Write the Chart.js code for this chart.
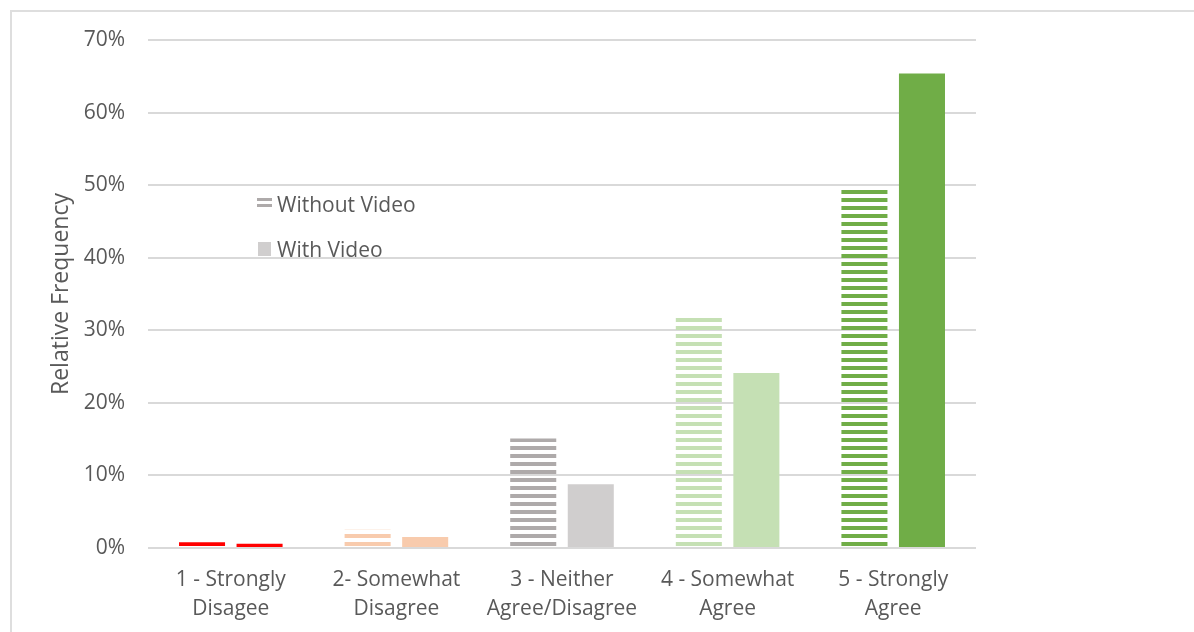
<!DOCTYPE html>
<html>
<head>
<meta charset="utf-8">
<script src="https://cdn.jsdelivr.net/npm/chart.js@4.4.1/dist/chart.umd.min.js"></script>
<style>
  html, body { margin: 0; padding: 0; background: #fff; }
  #wrap { position: relative; width: 1194px; height: 632px; overflow: hidden; }
  #frame { position: absolute; left: 10px; top: 10px; width: 1200px; height: 700px; border: 2px solid #dedede; }
  #chart { position: absolute; left: 0; top: 0; }
</style>
</head>
<body>
<div id="wrap">
  <div id="frame"></div>
  <canvas id="chart" width="1194" height="632"></canvas>
</div>
<script>
// response categories (two-line tick labels)
const categories = [
  ['1 - Strongly', 'Disagee'],
  ['2- Somewhat', 'Disagree'],
  ['3 - Neither', 'Agree/Disagree'],
  ['4 - Somewhat', 'Agree'],
  ['5 - Strongly', 'Agree']
];
// relative frequency, percent
const withoutVideo = [0.8, 2.5, 15.1, 31.7, 49.5];
const withVideo = [0.6, 1.5, 8.8, 24.1, 65.4];
const yTicks = [0, 10, 20, 30, 40, 50, 60, 70];

const seriesNames = ['Without Video', 'With Video'];
const withoutColors = ['#ff0000', '#f8cbad', '#aeaaaa', '#c5e0b4', '#70ad47'];
const withColors = ['#ff0000', '#f8cbad', '#d0cece', '#c5e0b4', '#70ad47'];

const FONT = '"Open Sans", "Liberation Sans", sans-serif';
const TEXT = '#595959';

// horizontal stripes, 4px on / 4px off
function stripes(color) {
  const c = document.createElement('canvas');
  c.width = 8; c.height = 8;
  const g = c.getContext('2d');
  g.fillStyle = color;
  g.fillRect(0, 0, 8, 2);
  g.fillRect(0, 6, 8, 2);
  return g.createPattern(c, 'repeat');
}

const legendPlugin = {
  id: 'insideLegend',
  afterDraw(chart) {
    const ctx = chart.ctx;
    const x = chart.chartArea.left + 109;
    const rows = [204, 249];
    ctx.save();
    ctx.font = '21px ' + FONT;
    ctx.textBaseline = 'middle';
    seriesNames.forEach((name, i) => {
      const y = rows[i];
      if (i === 0) {
        ctx.fillStyle = '#aeaaaa';
        ctx.fillRect(x, y - 6, 15, 3);
        ctx.fillRect(x, y, 15, 3);
      } else {
        ctx.fillStyle = '#d0cece';
        ctx.fillRect(x + 1, y - 7, 13, 14);
      }
      ctx.fillStyle = TEXT;
      ctx.fillText(name, x + 20, y + 2);
    });
    ctx.restore();
  }
};

new Chart(document.getElementById('chart'), {
  type: 'bar',
  data: {
    labels: categories,
    datasets: [
      { label: seriesNames[0], data: withoutVideo, backgroundColor: withoutColors.map(stripes), borderWidth: 0 },
      { label: seriesNames[1], data: withVideo, backgroundColor: withColors, borderWidth: 0 }
    ]
  },
  options: {
    responsive: false,
    animation: false,
    layout: { padding: { left: 40, top: 40, right: 218, bottom: 0 } },
    datasets: { bar: { categoryPercentage: 0.695, barPercentage: 0.8 } },
    plugins: { legend: { display: false }, tooltip: { enabled: false } },
    scales: {
      x: {
        grid: { display: false, drawTicks: false },
        border: { display: false },
        ticks: { color: TEXT, font: { family: FONT, size: 21, lineHeight: 1.38 }, padding: 18, maxRotation: 0, autoSkip: false },
        afterFit: s => { s.height = 84; }
      },
      y: {
        min: 0, max: 70,
        afterBuildTicks: s => { s.ticks = yTicks.map(v => ({ value: v })); },
        grid: { color: '#d9d9d9', lineWidth: 2, drawTicks: false },
        border: { display: false },
        ticks: { color: TEXT, font: { family: FONT, size: 21 }, padding: 23, callback: v => v + '%' },
        title: { display: true, text: 'Relative Frequency', color: TEXT, font: { family: FONT, size: 23 }, padding: { top: 8, bottom: 0 } },
        afterFit: s => { s.width = 108; }
      }
    }
  },
  plugins: [legendPlugin]
});
</script>
</body>
</html>
